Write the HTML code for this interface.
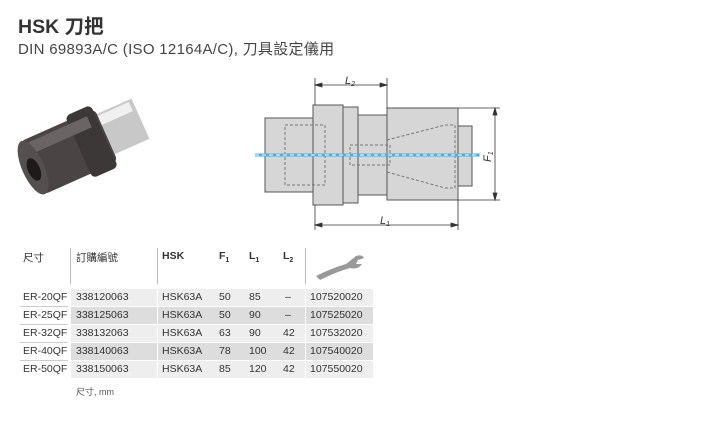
<!DOCTYPE html>
<html><head><meta charset="utf-8"><style>
body{margin:0;width:718px;height:434px;background:#fff;font-family:"Liberation Sans","Noto Sans CJK TC",sans-serif;color:#333;position:relative;overflow:hidden}
.a{position:absolute;white-space:nowrap}
.h1{left:18px;top:10px;font-size:19.5px;font-weight:bold;color:#333}
.h2{left:18px;top:38px;font-size:15px;color:#444;letter-spacing:0.3px}
.t{position:absolute;font-size:10.5px;color:#333}
.row{position:absolute;left:71px;width:302px;height:17px}
.sep{position:absolute;left:20px;width:48px;height:1px;background:#ccc}
.vl{position:absolute;width:1px;background:#bbb;top:248px;height:36px}
</style></head><body>
<div class="a h1">HSK 刀把</div>
<div class="a h2">DIN 69893A/C (ISO 12164A/C), 刀具設定儀用</div>

<svg class="a" style="left:0;top:80px" width="180" height="130">
<g transform="rotate(-24 80 70)">
<rect x="100" y="44" width="48" height="44" fill="#c8c8c8"/>
<rect x="104" y="46" width="40" height="10" fill="#f0f0f0"/>
<rect x="28" y="38" width="82" height="58" rx="6" fill="#4a4444"/>
<rect x="80" y="33" width="28" height="68" rx="5" fill="#3d3838"/>
<rect x="34" y="42" width="66" height="12" fill="#6a6464"/>
<ellipse cx="30" cy="67" rx="11" ry="29" fill="#555050"/>
<ellipse cx="30" cy="69" rx="6" ry="12" fill="#1e1a1a"/>
</g>
</svg>

<svg class="a" style="left:250px;top:60px" width="260" height="180">
<g fill="#d6d6d6" stroke="#555" stroke-width="1">
<rect x="15" y="58" width="48" height="74"/>
<rect x="63" y="45" width="30" height="100"/>
<rect x="93" y="47" width="15" height="96"/>
<rect x="108" y="55" width="29" height="80"/>
<rect x="137" y="48" width="71" height="92"/>
<rect x="208" y="66" width="14" height="60"/>
</g>
<g fill="none" stroke="#777" stroke-dasharray="3,2">
<rect x="35" y="65" width="40" height="60"/>
<path d="M137 80 L195 65 L205 65 L205 128 L195 128 L137 112"/>
<rect x="100" y="85" width="40" height="20"/>
</g>
<line x1="5" y1="95" x2="230" y2="95" stroke="#4ab0e0" stroke-width="3"/>
<line x1="5" y1="95" x2="230" y2="95" stroke="#fff" stroke-width="1" stroke-dasharray="4,3"/>
<g stroke="#333" stroke-width="0.8" fill="#333">
<line x1="65" y1="18" x2="65" y2="45"/><line x1="137" y1="18" x2="137" y2="48"/>
<line x1="65" y1="25" x2="137" y2="25"/>
<polygon points="65,25 72,23 72,27"/><polygon points="137,25 130,23 130,27"/>
<line x1="65" y1="145" x2="65" y2="170"/><line x1="208" y1="140" x2="208" y2="170"/>
<line x1="65" y1="165" x2="208" y2="165"/>
<polygon points="65,165 72,163 72,167"/><polygon points="208,165 201,163 201,167"/>
<line x1="208" y1="48" x2="250" y2="48"/><line x1="208" y1="140" x2="250" y2="140"/>
<line x1="245" y1="48" x2="245" y2="140"/>
<polygon points="245,48 243,55 247,55"/><polygon points="245,140 243,133 247,133"/>
</g>
<text x="95" y="24" font-size="11" font-style="italic" font-family="Liberation Sans" fill="#333">L<tspan font-size="7" dy="2">2</tspan></text>
<text x="130" y="164" font-size="11" font-style="italic" font-family="Liberation Sans" fill="#333">L<tspan font-size="7" dy="2">1</tspan></text>
<text x="0" y="0" font-size="11" font-style="italic" font-family="Liberation Sans" fill="#333" transform="translate(241 102) rotate(-90)">F<tspan font-size="7" dy="2">1</tspan></text>
</svg>

<div class="vl" style="left:70px"></div>
<div class="vl" style="left:157px"></div>
<div class="vl" style="left:305px"></div>
<div class="t" style="left:23px;top:250px">尺寸</div>
<div class="t" style="left:76px;top:250px">訂購編號</div>
<div class="t" style="left:162px;top:250px;font-weight:bold">HSK</div>
<div class="t" style="left:219px;top:250px;font-weight:bold">F<sub style="font-size:7px">1</sub></div>
<div class="t" style="left:249px;top:250px;font-weight:bold">L<sub style="font-size:7px">1</sub></div>
<div class="t" style="left:283px;top:250px;font-weight:bold">L<sub style="font-size:7px">2</sub></div>
<svg class="a" style="left:312px;top:250px" width="55" height="30"><path d="M4 26 Q20 18 34 14 L44 6 Q50 4 52 8 L46 10 L44 14 L50 14 Q46 20 38 18 Q24 22 8 30 Z" fill="#999"/></svg>

<div class="row" style="top:289px;background:#eee"></div>
<div class="row" style="top:307px;background:#ddd"></div>
<div class="row" style="top:325px;background:#eee"></div>
<div class="row" style="top:343px;background:#ddd"></div>
<div class="row" style="top:361px;background:#eee"></div>
<div class="sep" style="top:306px"></div><div class="sep" style="top:324px"></div><div class="sep" style="top:342px"></div><div class="sep" style="top:360px"></div>
<div style="position:absolute;left:157px;top:289px;width:1px;height:89px;background:#fff"></div>
<div style="position:absolute;left:305px;top:289px;width:1px;height:89px;background:#fff"></div>

<div class="t" style="left:23px;top:291px">ER-20QF</div><div class="t" style="left:76px;top:291px">338120063</div><div class="t" style="left:162px;top:291px">HSK63A</div><div class="t" style="left:219px;top:291px">50</div><div class="t" style="left:249px;top:291px">85</div><div class="t" style="left:285px;top:291px">–</div><div class="t" style="left:310px;top:291px">107520020</div>
<div class="t" style="left:23px;top:309px">ER-25QF</div><div class="t" style="left:76px;top:309px">338125063</div><div class="t" style="left:162px;top:309px">HSK63A</div><div class="t" style="left:219px;top:309px">50</div><div class="t" style="left:249px;top:309px">90</div><div class="t" style="left:285px;top:309px">–</div><div class="t" style="left:310px;top:309px">107525020</div>
<div class="t" style="left:23px;top:327px">ER-32QF</div><div class="t" style="left:76px;top:327px">338132063</div><div class="t" style="left:162px;top:327px">HSK63A</div><div class="t" style="left:219px;top:327px">63</div><div class="t" style="left:249px;top:327px">90</div><div class="t" style="left:283px;top:327px">42</div><div class="t" style="left:310px;top:327px">107532020</div>
<div class="t" style="left:23px;top:345px">ER-40QF</div><div class="t" style="left:76px;top:345px">338140063</div><div class="t" style="left:162px;top:345px">HSK63A</div><div class="t" style="left:219px;top:345px">78</div><div class="t" style="left:249px;top:345px">100</div><div class="t" style="left:283px;top:345px">42</div><div class="t" style="left:310px;top:345px">107540020</div>
<div class="t" style="left:23px;top:363px">ER-50QF</div><div class="t" style="left:76px;top:363px">338150063</div><div class="t" style="left:162px;top:363px">HSK63A</div><div class="t" style="left:219px;top:363px">85</div><div class="t" style="left:249px;top:363px">120</div><div class="t" style="left:283px;top:363px">42</div><div class="t" style="left:310px;top:363px">107550020</div>
<div class="t" style="left:76px;top:385px;font-size:9px;color:#555">尺寸, mm</div>
</body></html>
